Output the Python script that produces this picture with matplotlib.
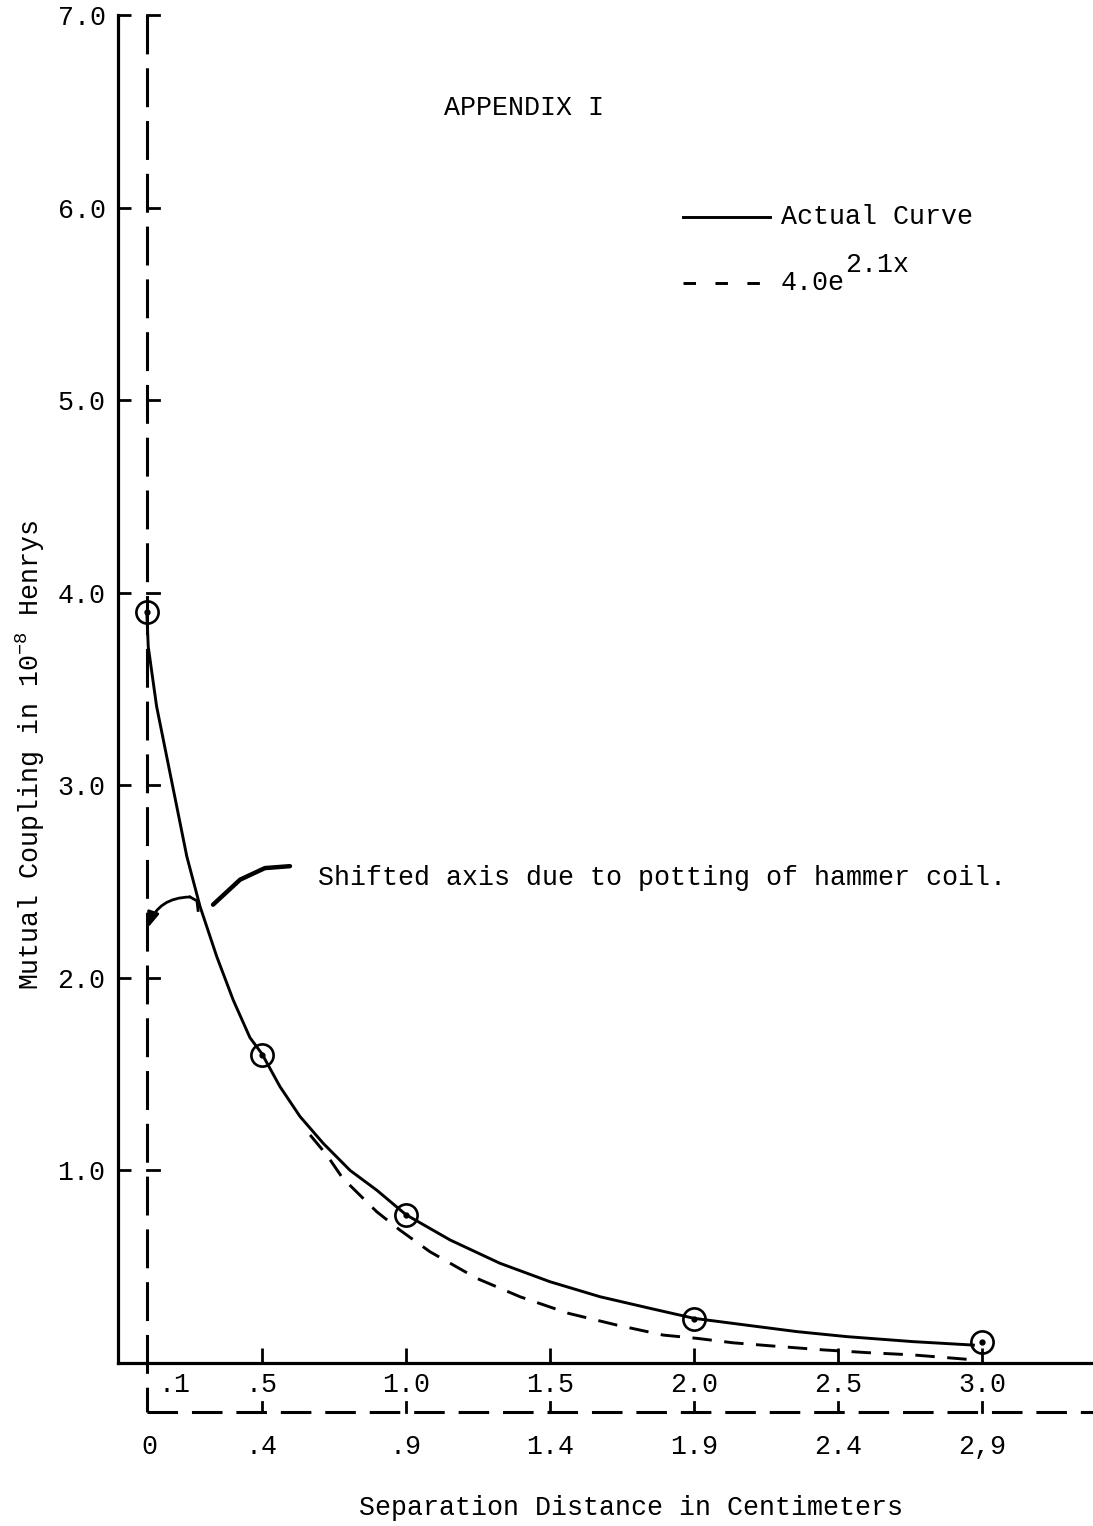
import matplotlib
matplotlib.use("Agg")
import matplotlib.pyplot as plt

plt.rcParams['font.family'] = ['Liberation Mono', 'DejaVu Sans Mono']
plt.rcParams['mathtext.fontset'] = 'custom'
plt.rcParams['mathtext.rm'] = 'Liberation Mono'
plt.rcParams['mathtext.it'] = 'Liberation Mono'
plt.rcParams['lines.scale_dashes'] = False

# ---- data ----
meas_x = [0.1, 0.5, 1.0, 2.0, 3.0]
meas_y = [3.90, 1.60, 0.77, 0.23, 0.11]

actual_x = [0.100, 0.105, 0.134, 0.169, 0.204, 0.239, 0.285, 0.343, 0.400, 0.458, 0.500,
            0.5625, 0.632, 0.713, 0.806, 0.898, 1.000, 1.153, 1.326, 1.500, 1.674, 1.847,
            2.000, 2.180, 2.357, 2.530, 2.760, 2.970]
actual_y = [3.90, 3.72, 3.41, 3.15, 2.89, 2.63, 2.37, 2.11, 1.885, 1.69, 1.605,
            1.435, 1.28, 1.14, 1.00, 0.898, 0.77, 0.639, 0.518, 0.422, 0.344, 0.284,
            0.232, 0.197, 0.163, 0.137, 0.111, 0.093]

fit_x = [0.667, 0.725, 0.780, 0.898, 0.979, 1.083, 1.245, 1.396, 1.564, 1.732, 1.893,
         2.010, 2.135, 2.275, 2.450, 2.600, 2.760, 2.950]
fit_y = [1.184, 1.08, 0.96, 0.786, 0.69, 0.578, 0.44, 0.344, 0.258, 0.197, 0.145,
         0.128, 0.105, 0.088, 0.068, 0.054, 0.042, 0.019]

top_ticks = [0.5, 1.0, 1.5, 2.0, 2.5, 3.0]
top_labels = [".5", "1.0", "1.5", "2.0", "2.5", "3.0"]
shift_ticks = [0.1, 0.5, 1.0, 1.5, 2.0, 2.5, 3.0]
shift_labels = ["0", ".4", ".9", "1.4", "1.9", "2.4", "2,9"]
y_ticks = [1.0, 2.0, 3.0, 4.0, 5.0, 6.0, 7.0]
y_labels = ["1.0", "2.0", "3.0", "4.0", "5.0", "6.0", "7.0"]

shift_origin_x = 0.1
shift_axis_y = -0.254

W, H = 1093, 1526
fig = plt.figure(figsize=(W / 100, H / 100), dpi=100)
ax = fig.add_axes([118 / W, (H - 1363) / H, (W - 118) / W, (1363 - 15) / H])
XMAX = (W - 118) / 288.0
ax.set_xlim(0, XMAX)
ax.set_ylim(0, 7.0)
PX = XMAX / (W - 118)          # data units per pixel, x
PY = 7.0 / (1363 - 15)         # data units per pixel, y

FS = 19.2
for s in ['top', 'right']:
    ax.spines[s].set_visible(False)
for s in ['left', 'bottom']:
    ax.spines[s].set_linewidth(2.3)

ax.set_yticks(y_ticks)
ax.set_yticklabels(y_labels, fontsize=FS)
ax.set_xticks(top_ticks)
ax.set_xticklabels([])
ax.tick_params(axis='y', direction='in', length=9, width=2, pad=9)
ax.tick_params(axis='x', direction='in', length=11, width=2)

# top tick labels
for xv, lab in zip(top_ticks, top_labels):
    ax.text(xv, -0.114, lab, ha='center', va='center', fontsize=FS, clip_on=False)
ax.text(shift_origin_x + 28 * PX, -0.114, ".1", ha='center', va='center', fontsize=FS, clip_on=False)

# shifted axes (dashed)
ax.plot([shift_origin_x, shift_origin_x], [7.0, shift_axis_y], color='black', lw=2.2,
        dashes=(28, 10), clip_on=False)
ax.plot([shift_origin_x, XMAX], [shift_axis_y, shift_axis_y], color='black', lw=2.2,
        dashes=(22, 10), clip_on=False)
for yv in y_ticks:
    ax.plot([shift_origin_x, shift_origin_x + 12 * PX], [yv, yv], color='black', lw=2, clip_on=False)
for xv in shift_ticks[1:]:
    ax.plot([xv, xv], [shift_axis_y, shift_axis_y + 10 * PY], color='black', lw=2, clip_on=False)
for xv, lab in zip(shift_ticks, shift_labels):
    ax.text(xv + (3 * PX if lab == "0" else 0), -0.436, lab, ha='center', va='center',
            fontsize=FS, clip_on=False)

# curves
ax.plot(actual_x, actual_y, color='black', lw=2.1, clip_on=False, solid_joinstyle='round')
ax.plot(fit_x, fit_y, color='black', lw=2.1, dashes=(14, 9), clip_on=False)
ax.plot(meas_x, meas_y, linestyle='none', marker='o', markersize=16, markerfacecolor='none',
        markeredgecolor='black', markeredgewidth=1.9, clip_on=False)
ax.plot(meas_x, meas_y, linestyle='none', marker='o', markersize=3.5, color='black', clip_on=False)

# annotation arrow (hand drawn look)
ax.plot([0.597, 0.51, 0.424, 0.33], [2.58, 2.57, 2.51, 2.38], color='black', lw=3.2,
        solid_capstyle='round', clip_on=False)
ax.plot([0.278, 0.274, 0.25], [2.35, 2.40, 2.42], color='black', lw=2, clip_on=False)
ax.annotate("", xy=(0.104, 2.26), xytext=(0.25, 2.42),
            arrowprops=dict(arrowstyle='-|>,head_length=0.9,head_width=0.35', color='black', lw=2,
                            connectionstyle='arc3,rad=0.35', shrinkA=0, shrinkB=0))
ax.text((318 - 118) * PX, 2.52, "Shifted axis due to potting of hammer coil.",
        ha='left', va='center', fontsize=FS)

# title
fig.text(524 / W, 1 - 108 / H, "APPENDIX I", ha='center', va='center', fontsize=FS)

# legend (manual)
lx0, lx1 = (683 - 118) * PX, (770 - 118) * PX
ax.plot([lx0, lx1], [(1363 - 217) * PY] * 2, color='black', lw=2.1)
ax.plot([lx0, lx1], [(1363 - 283) * PY] * 2, color='black', lw=2.1, dashes=(9, 14))
ax.text((781 - 118) * PX, (1363 - 217) * PY, "Actual Curve", ha='left', va='center', fontsize=FS)
ax.text((781 - 118) * PX, (1363 - 283) * PY, "4.0e", ha='left', va='center', fontsize=FS)
ax.text((845 - 118) * PX, (1363 - 265) * PY, "2.1x", ha='left', va='center', fontsize=FS)

# axis labels
fig.text(631 / W, 1 - 1508 / H, "Separation Distance in Centimeters", ha='center', va='center', fontsize=FS)
fig.text(30 / W, 1 - 755 / H, "Mutual Coupling in 10$^{-8}$ Henrys", ha='center', va='center',
         rotation=90, fontsize=FS)

fig.savefig("out.png", dpi=100)
